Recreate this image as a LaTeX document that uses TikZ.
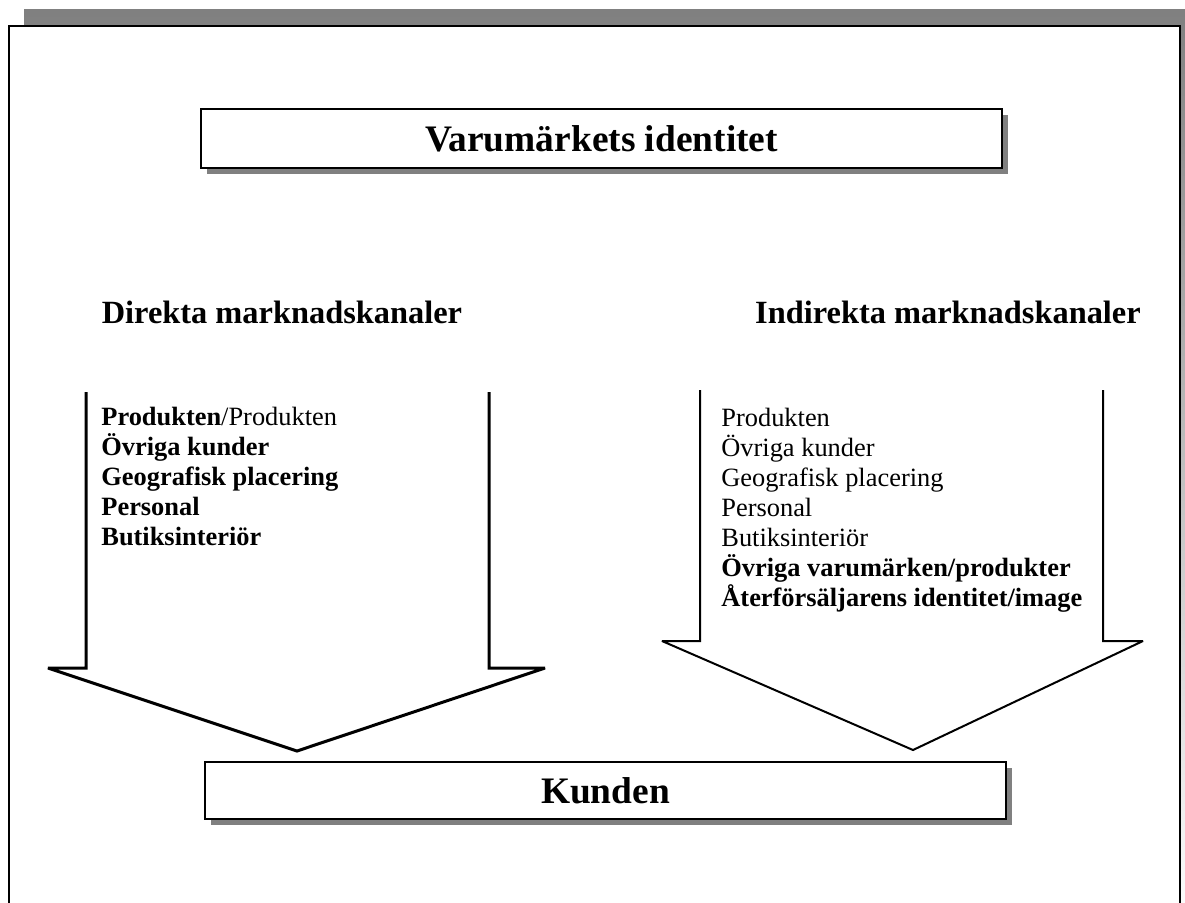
\documentclass[tikz,border=0pt]{standalone}
\usepackage{fontspec}
\setmainfont{Liberation Serif}
\usetikzlibrary{shadows}
\definecolor{shade}{HTML}{808080}
\begin{document}
\begin{tikzpicture}[x=0.5pt,y=-0.5pt,
  titlebox/.style={draw=black,line width=1pt,fill=white,
    drop shadow={shadow xshift=3.2pt,shadow yshift=-3pt,fill=shade,opacity=1},
    minimum width=400.5pt,minimum height=29.5pt,inner sep=0pt},
  bigtext/.style={font=\fontsize{18.7}{20}\selectfont\bfseries},
  headtext/.style={font=\fontsize{16.2}{18}\selectfont\bfseries,anchor=base,inner sep=0pt},
  itemtext/.style={font=\fontsize{13.2}{15}\selectfont,anchor=base west,inner sep=0pt},
  boldarrow/.style={draw=black,line width=1.5pt,line join=miter,miter limit=1.5},
  thinarrow/.style={draw=black,line width=1pt,line join=miter,miter limit=1.5}]
\useasboundingbox (0,0) rectangle (1185,902);
\clip (0,0) rectangle (1185,902);

% page frame with its shadow
\fill[shade] (24,9) rectangle (1210,930);
\filldraw[fill=white,draw=black,line width=1pt] (9,25.5) rectangle (1179.5,940);

% top and bottom boxes
\node[titlebox,bigtext] (ident) at (601.5,138.5) {Varumärkets identitet};
\node[titlebox,bigtext,minimum width=400.5pt,minimum height=28.5pt] (kund) at (605.5,790.5) {Kunden};

% column headings
\node[headtext] (dirhead) at (282,323) {Direkta marknadskanaler};
\node[headtext] (indhead) at (948,323) {Indirekta marknadskanaler};

% direct channels arrow
\coordinate (dtip) at (297,751);
\draw[boldarrow] (86,392) -- (86,668) -- (48,668) -- (dtip) -- (545,668) -- (489,668) -- (489,392);

% indirect channels arrow
\coordinate (itip) at (913,750);
\draw[thinarrow] (700,390) -- (700,641) -- (662,641) -- (itip) -- (1143,641) -- (1103,641) -- (1103,390);

% direct channel items
\node[itemtext] (d1) at (101,425.5) {\textbf{Produkten}/Produkten};
\node[itemtext] (d2) at (101,455.5) {\textbf{Övriga kunder}};
\node[itemtext] (d3) at (101,485.5) {\textbf{Geografisk placering}};
\node[itemtext] (d4) at (101,515.5) {\textbf{Personal}};
\node[itemtext] (d5) at (101,545.5) {\textbf{Butiksinteriör}};

% indirect channel items
\node[itemtext] (i1) at (721,426) {Produkten};
\node[itemtext] (i2) at (721,456) {Övriga kunder};
\node[itemtext] (i3) at (721,486) {Geografisk placering};
\node[itemtext] (i4) at (721,516) {Personal};
\node[itemtext] (i5) at (721,546) {Butiksinteriör};
\node[itemtext] (i6) at (721,576) {\textbf{Övriga varumärken/produkter}};
\node[itemtext] (i7) at (721,606) {\textbf{Återförsäljarens identitet/image}};
\end{tikzpicture}
\end{document}
